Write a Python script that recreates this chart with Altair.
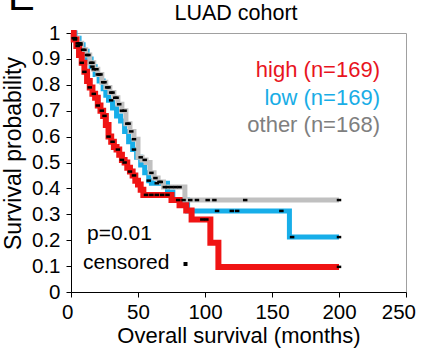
import altair as alt
import pandas as pd

# Kaplan-Meier step points (time in months, survival)
high_t = [0, 2, 4, 6, 8, 10, 12, 14, 16, 18, 20, 22, 24, 26, 28, 30, 32, 34, 36, 38, 40, 42, 44, 46, 48, 50, 52, 54, 75, 81, 86, 90, 104, 110, 200]
high_s = [1.0, 0.975, 0.95, 0.915, 0.885, 0.85, 0.815, 0.79, 0.765, 0.75, 0.72, 0.70, 0.68, 0.645, 0.60, 0.58, 0.56, 0.55, 0.53, 0.51, 0.50, 0.48, 0.465, 0.45, 0.43, 0.415, 0.395, 0.375, 0.355, 0.335, 0.315, 0.28, 0.19, 0.097, 0.097]

low_t = [0, 3, 6, 9, 12, 15, 18, 21, 24, 26, 28, 31, 34, 37, 40, 43, 46, 49, 52, 55, 58, 60, 72, 76, 87, 163, 200]
low_s = [1.0, 0.98, 0.955, 0.93, 0.90, 0.87, 0.84, 0.815, 0.785, 0.76, 0.74, 0.71, 0.68, 0.66, 0.62, 0.58, 0.55, 0.52, 0.49, 0.46, 0.43, 0.42, 0.386, 0.355, 0.313, 0.212, 0.212]

other_t = [0, 2, 5, 8, 11, 14, 17, 20, 23, 26, 29, 32, 35, 38, 41, 44, 47, 50, 53, 56, 59, 62, 65, 69, 85, 200]
other_s = [1.0, 0.98, 0.96, 0.935, 0.915, 0.885, 0.86, 0.84, 0.81, 0.79, 0.77, 0.75, 0.725, 0.70, 0.65, 0.62, 0.59, 0.52, 0.51, 0.50, 0.46, 0.44, 0.425, 0.405, 0.355, 0.355]

# censored times
high_c = [3, 5, 8, 10, 14, 17, 20, 23, 25, 28, 31, 35, 38, 40, 44, 47, 56, 60, 64, 68, 72, 98, 101, 200]
low_c = [7, 16, 20, 30, 47, 58, 64, 80, 84, 109, 120, 124, 157, 165, 200]
other_c = [2, 3, 5, 6, 7, 9, 10, 12, 13, 15, 16, 17, 19, 21, 22, 24, 25, 27, 28, 30, 31, 33, 34, 36, 38, 40, 42, 43, 45, 47, 52, 55, 60, 63, 66, 67, 70, 72, 75, 78, 81, 89, 94, 102, 107, 130, 200]

groups = ["low", "other", "high"]
colors = ["#17aee9", "#c0c0c0", "#f01414"]
widths = [5, 5, 6]
legend_labels = ["high (n=169)", "low (n=169)", "other (n=168)"]
legend_colors = ["#e8141e", "#19ade6", "#7f7f7f"]

steps = {"high": (high_t, high_s), "low": (low_t, low_s), "other": (other_t, other_s)}
cens = {"high": high_c, "low": low_c, "other": other_c}

def surv_at(g, x):
    t, s = steps[g]
    v = s[0]
    for a, b in zip(t, s):
        if a <= x:
            v = b
    return v

crows = []
for g in groups:
    for c in cens[g]:
        crows.append({"group": g, "time": c, "surv": surv_at(g, c)})
cens_df = pd.DataFrame(crows)

FONT = "Liberation Sans"
xscale = alt.Scale(domain=[0, 250], nice=False)
yscale = alt.Scale(domain=[0, 1], nice=False)

xaxis = alt.Axis(values=[0, 50, 100, 150, 200, 250], title="Overall survival (months)", grid=False,
                 labelFontSize=20.5, titleFontSize=22, titleFontWeight="normal", tickSize=5,
                 labelPadding=5, domainColor="black", tickColor="black", labelColor="black",
                 titleColor="black", titleY=50, titleBaseline="alphabetic",
                 labelFlush=True, labelFlushOffset=9.5)
yaxis = alt.Axis(values=[0, 0.1, 0.2, 0.3, 0.4, 0.5, 0.6, 0.7, 0.8, 0.9, 1.0], format="~g",
                 title="Survival probability", grid=False, labelFontSize=20.5, titleFontSize=23,
                 titleFontWeight="normal", tickSize=5, labelPadding=6, domainColor="black",
                 tickColor="black", labelColor="black", titleColor="black", titleX=-51,
                 titleY=120, titleBaseline="alphabetic", labelFlush=False)

X = alt.X("time:Q", scale=xscale, axis=xaxis)
Y = alt.Y("surv:Q", scale=yscale, axis=yaxis)

layers = []
for i, g in enumerate(groups):
    t, s = steps[g]
    df = pd.DataFrame({"time": t, "surv": s})
    layers.append(alt.Chart(df).mark_line(interpolate="step-after", strokeWidth=widths[i],
                                          strokeJoin="miter", color=colors[i]).encode(x=X, y=Y))

ticks = alt.Chart(cens_df).mark_tick(orient="horizontal", size=4.5, thickness=2.5, color="black", opacity=1).encode(
    x=X, y=Y,
)
layers.append(ticks)

def txt(s, x, y, size, color="black", align="left", **kw):
    return alt.Chart(pd.DataFrame({"t": [s]})).mark_text(
        align=align, baseline="alphabetic", fontSize=size, font=FONT, color=color, **kw
    ).encode(x=alt.value(x), y=alt.value(y), text="t:N")

leg_y = [43.5, 71.5, 98.5]
for lab, col, yy in zip(legend_labels, legend_colors, leg_y):
    layers.append(txt(lab, 309, yy, 22, col, align="right"))

layers.append(txt("p=0.01", 16, 207, 21))
layers.append(txt("censored", 12, 236, 21))
layers.append(txt("LUAD cohort", 165, -13, 21.5, align="center"))
layers.append(txt("E", -63, -23.5, 40))

cdot = alt.Chart(pd.DataFrame({"a": [1]})).mark_point(shape="square", filled=True, size=16, color="black", opacity=1).encode(
    x=alt.value(114.5), y=alt.value(231)
)
layers.append(cdot)

chart = alt.layer(*layers).properties(
    width=335, height=259,
    padding={"left": 71, "top": 33, "right": 15, "bottom": 62},
    autosize="none",
).configure_view(stroke="#a0a0a0", strokeWidth=1).configure_axis(labelFont=FONT, titleFont=FONT)

chart.save("out.html", embed_options={"renderer": "svg", "actions": False})
